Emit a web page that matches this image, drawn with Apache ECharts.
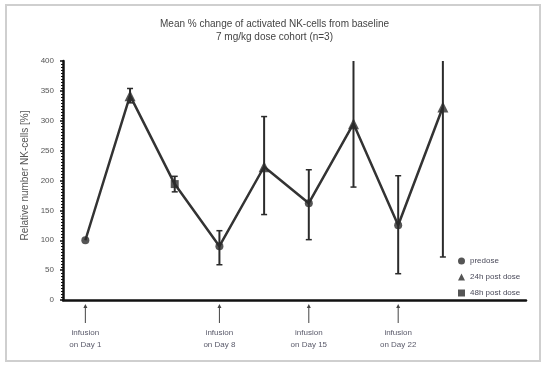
<!DOCTYPE html>
<html><head><meta charset="utf-8">
<script src="https://cdn.jsdelivr.net/npm/echarts@6/dist/echarts.min.js"></script>
<style>html,body{margin:0;padding:0;background:#fff}#c{width:549px;height:370px}</style>
</head><body><div id="c"></div>
<script>
// Data
var positions = [0, 1, 2, 3, 4, 5, 6, 7, 8];
var timepoints = ['predose', '24h post dose', '48h post dose', 'predose', '24h post dose', 'predose', '24h post dose', 'predose', '24h post dose'];
var means = [100, 342, 194, 90, 223, 162, 295, 125, 323];
var lows  = [100, 330, 181, 59, 143, 101, 189, 44, 72];
var highs = [100, 354, 207, 116, 307, 218, 410, 208, 410];
var infusionPos = [0, 3, 5, 7];
var infusionLabels = ['infusion\non Day 1', 'infusion\non Day 8', 'infusion\non Day 15', 'infusion\non Day 22'];
var legendNames = ['predose', '24h post dose', '48h post dose'];
var legendSymbols = ['circle', 'triangle', 'rect'];
var yTicks = [0, 50, 100, 150, 200, 250, 300, 350, 400];

var dark = '#2b2b2b';
var chart = echarts.init(document.getElementById('c'));

var scatterSeries = legendNames.map(function (nm, k) {
  var d = [];
  for (var i = 0; i < positions.length; i++) if (timepoints[i] === nm) d.push([positions[i], means[i]]);
  return {
    name: nm, type: 'scatter', symbol: legendSymbols[k],
    symbolSize: k === 1 ? 11 : 8,
    itemStyle: { color: dark }, data: d, z: 5
  };
});

var errData = positions.map(function (p, i) { return [p, lows[i], highs[i]]; });

chart.setOption({
  animation: false,
  title: {
    text: 'Mean % change of activated NK-cells from baseline\n7 mg/kg dose cohort (n=3)',
    left: 'center', top: 13,
    textStyle: { fontFamily: 'Liberation Sans', fontSize: 10, fontWeight: 'normal', color: '#444', lineHeight: 13 }
  },
  graphic: [{
    type: 'rect', shape: { x: 6, y: 5, width: 534, height: 356 },
    style: { fill: 'none', stroke: '#cfcfcf', lineWidth: 2 }, silent: true
  }],
  legend: {
    orient: 'vertical', left: 453, top: 252, itemWidth: 7, itemHeight: 7, itemGap: 8,
    textStyle: { fontFamily: 'Liberation Sans', fontSize: 8, color: '#4a4a5a' },
    data: legendNames.map(function (n, k) { return { name: n, icon: legendSymbols[k] }; })
  },
  grid: { left: 63, right: 23, top: 61, bottom: 70 },
  xAxis: {
    type: 'value', min: -0.5, max: 9.86,
    axisLine: { show: true, onZero: false, lineStyle: { color: '#111', width: 2.5 } },
    axisTick: { show: false }, axisLabel: { show: false }, splitLine: { show: false }
  },
  yAxis: {
    type: 'value', min: 0, max: 400, interval: 50,
    name: 'Relative number NK-cells [%]', nameLocation: 'middle', nameGap: 30,
    nameTextStyle: { fontFamily: 'Liberation Sans', fontSize: 10, color: '#555', padding: [0, 0, 0, 10] },
    axisLine: { show: true, onZero: false, lineStyle: { color: '#111', width: 2.5 } },
    axisTick: { show: true, length: 3, lineStyle: { color: '#111', width: 1.5 } },
    minorTick: { show: true, splitNumber: 10, length: 2, lineStyle: { color: '#111', width: 1 } },
    axisLabel: { fontFamily: 'Liberation Sans', fontSize: 8, color: '#555', margin: 9,
      formatter: function (v) { return yTicks.indexOf(v) >= 0 ? String(v) : ''; } },
    splitLine: { show: false }
  },
  series: [{
    name: 'line', type: 'line', data: positions.map(function (p, i) { return [p, means[i]]; }),
    showSymbol: false, lineStyle: { color: '#333', width: 2.5 }, z: 3
  }, {
    name: 'err', type: 'custom', clip: true, z: 4,
    data: errData,
    renderItem: function (params, api) {
      var x = api.value(0), lo = api.value(1), hi = api.value(2);
      if (lo === hi) return null;
      var a = api.coord([x, lo]), b = api.coord([x, hi]), w = 3;
      var st = { stroke: dark, lineWidth: 2 };
      return { type: 'group', children: [
        { type: 'line', shape: { x1: a[0], y1: a[1], x2: b[0], y2: b[1] }, style: st },
        { type: 'line', shape: { x1: a[0] - w, y1: a[1], x2: a[0] + w, y2: a[1] }, style: { stroke: dark, lineWidth: 1.5 } },
        { type: 'line', shape: { x1: b[0] - w, y1: b[1], x2: b[0] + w, y2: b[1] }, style: { stroke: dark, lineWidth: 1.5 } }
      ] };
    }
  }, {
    name: 'infusion', type: 'custom', clip: false, z: 6, silent: true,
    data: infusionPos.map(function (p, i) { return [p, 0, infusionLabels[i]]; }),
    renderItem: function (params, api) {
      var p = api.coord([api.value(0), 0]);
      var x = p[0], y0 = p[1] + 4;
      return { type: 'group', children: [
        { type: 'line', shape: { x1: x, y1: y0 + 2, x2: x, y2: y0 + 19 }, style: { stroke: '#444', lineWidth: 1 } },
        { type: 'polygon', shape: { points: [[x, y0], [x - 2, y0 + 4], [x + 2, y0 + 4]] }, style: { fill: '#444' } },
        { type: 'text', x: x, y: y0 + 23, style: { text: infusionLabels[params.dataIndex], align: 'center', verticalAlign: 'top',
          fontFamily: 'Liberation Sans', fontSize: 8, lineHeight: 12, fill: '#5a5a6a' } }
      ] };
    }
  }].concat(scatterSeries)
});
</script></body></html>
